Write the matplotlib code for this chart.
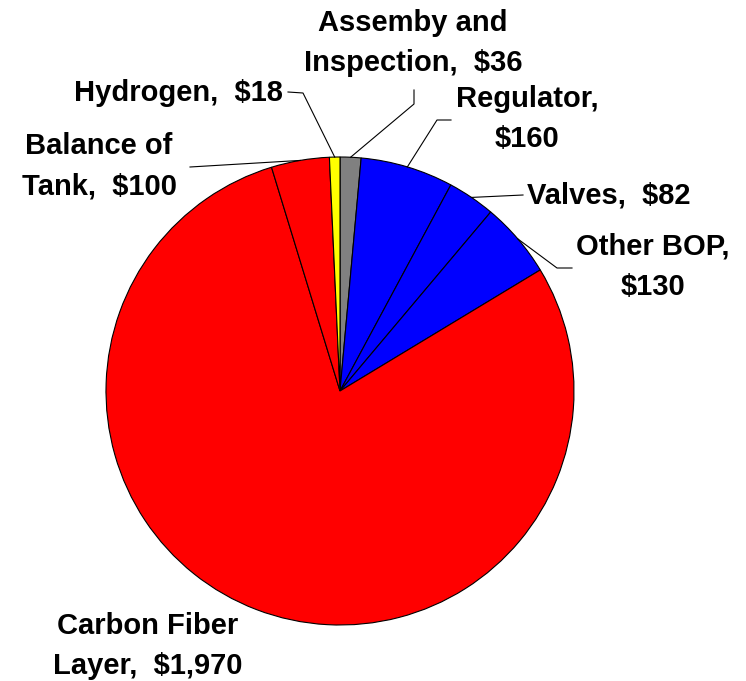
import numpy as np
import matplotlib
matplotlib.use("Agg")
import matplotlib.pyplot as plt

# Cost breakdown, in pie order (clockwise from 12 o'clock)
categories = ["Assemby and\nInspection", "Regulator", "Valves", "Other BOP",
              "Carbon Fiber\nLayer", "Balance of\nTank", "Hydrogen"]
costs = [36, 160, 82, 130, 1970, 100, 18]
slice_colors = ["#808080", "#0000FF", "#0000FF", "#0000FF",
                "#FF0000", "#FF0000", "#FFFF00"]
label_texts = ["Assemby and\nInspection,  $36", "Regulator,\n$160", "Valves,  $82",
               "Other BOP,\n$130", "Carbon Fiber\nLayer,  $1,970",
               "Balance of\nTank,  $100", "Hydrogen,  $18"]

W, H = 746, 681
fig = plt.figure(figsize=(W / 100, H / 100), dpi=100)
ax = fig.add_axes([0, 0, 1, 1])
ax.set_xlim(0, W)
ax.set_ylim(0, H)
ax.set_aspect("equal")
ax.axis("off")

cx, cy, r = 340, H - 391, 234
wedges, _ = ax.pie(costs, colors=slice_colors, startangle=90, counterclock=False,
                   center=(cx, cy), radius=r, frame=True,
                   wedgeprops=dict(edgecolor="black", linewidth=0.8))
ax.set_xlim(0, W)
ax.set_ylim(0, H)
ax.axis("off")

font = dict(family=["Liberation Sans", "DejaVu Sans"], weight="bold",
            fontsize=21, color="black", linespacing=1.55)

# label placement: text anchor (x, y from top), alignment, elbow points of leader
layout = [
    dict(xy=(413, 43), ha="center", path=[(414, 90), (414, 104)]),
    dict(xy=(527, 119), ha="center", path=[(451, 120), (437, 120)]),
    dict(xy=(527, 195), ha="left", path=[(523, 195)]),
    dict(xy=(653, 267), ha="center", path=[(572, 268), (557, 268)]),
    dict(xy=(148, 646), ha="center", path=[]),
    dict(xy=(99, 166), ha="center", path=[(190, 167)]),
    dict(xy=(283, 93), ha="right", path=[(288, 92), (303, 93)]),
]

for w, txt, lay in zip(wedges, label_texts, layout):
    x, y = lay["xy"]
    ax.text(x, H - y, txt, ha=lay["ha"], va="center", multialignment="center", **font)
    if lay["path"]:
        mid = np.deg2rad((w.theta1 + w.theta2) / 2)
        px, py = cx + r * np.cos(mid), cy + r * np.sin(mid)
        xs = [p[0] for p in lay["path"]] + [px]
        ys = [H - p[1] for p in lay["path"]] + [py]
        ax.plot(xs, ys, color="black", linewidth=0.8)

fig.savefig("out.png", dpi=100, facecolor="white")
